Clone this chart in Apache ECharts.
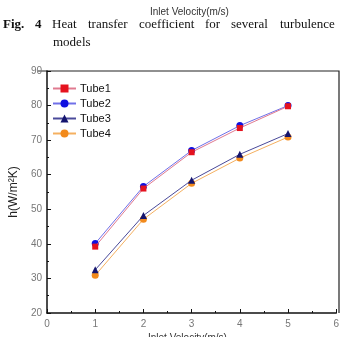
<!DOCTYPE html>
<html>
<head>
<meta charset="utf-8">
<script src="https://cdn.jsdelivr.net/npm/echarts@6/dist/echarts.min.js"></script>
<style>
  html, body { margin: 0; padding: 0; background: #fff; }
  #chart { width: 342px; height: 337px; }
</style>
</head>
<body>
<div id="chart"></div>
<script>
var velocity = [1, 2, 3, 4, 5];
var tube1 = [39.2, 56.0, 66.5, 73.5, 79.8];
var tube2 = [40.1, 56.6, 67.0, 74.2, 80.0];
var tube3 = [32.5, 48.2, 58.4, 65.9, 71.9];
var tube4 = [30.9, 47.1, 57.5, 64.8, 70.9];

var tubeNames = ['Tube1', 'Tube2', 'Tube3', 'Tube4'];
var tubeData = [tube1, tube2, tube3, tube4];
var markColors = ['#e5121e', '#1010e0', '#14146e', '#f28a1c'];
var lineColors = ['#e07a90', '#7070e8', '#4a4a9a', '#f5b060'];
var symbols = ['rect', 'circle', 'triangle', 'circle'];

// caption words placed one by one (justified line)
var captionWords = [
  ['Fig.', 3, true], ['4', 35, true], ['Heat', 52], ['transfer', 88],
  ['coefficient', 139], ['for', 205], ['several', 231], ['turbulence', 280]
];

var chart = echarts.init(document.getElementById('chart'));

var graphics = [];
captionWords.forEach(function (w) {
  graphics.push({
    type: 'text', left: w[1], top: 18,
    style: { text: w[0], fontFamily: 'Liberation Serif', fontSize: 13, fontWeight: w[2] ? 'bold' : 'normal', fill: '#111' }
  });
});
graphics.push({
  type: 'text', left: 53, top: 36,
  style: { text: 'models', fontFamily: 'Liberation Serif', fontSize: 13, fill: '#111' }
});
graphics.push({
  type: 'text', left: 150, top: 7,
  style: { text: 'Inlet Velocity(m/s)', fontFamily: 'Liberation Sans', fontSize: 10, fill: '#333' }
});
graphics.push({
  type: 'text', left: 148, top: 333,
  style: { text: 'Inlet Velocity(m/s)', fontFamily: 'Liberation Sans', fontSize: 10, fill: '#333' }
});
// frame top/right
graphics.push({
  type: 'polyline',
  shape: { points: [[38, 71], [339, 71], [339, 313]] },
  style: { stroke: '#222', lineWidth: 1.2, fill: null }
});

var option = {
  animation: false,
  backgroundColor: '#fff',
  grid: { left: 38, right: 3, top: 71, bottom: 24 },
  legend: {
    orient: 'vertical',
    left: 52, top: 83, padding: 0,
    itemWidth: 23, itemHeight: 10, itemGap: 4,
    textStyle: { fontFamily: 'Liberation Sans', fontSize: 11, color: '#111', padding: [0, 0, 0, -1] },
    data: tubeNames
  },
  xAxis: {
    type: 'value', min: 0, max: 6, interval: 1,
    axisLine: { onZero: false, lineStyle: { color: '#111', width: 1.5 } },
    axisTick: { inside: true, length: 4, lineStyle: { color: '#111' } },
    minorTick: { show: true, splitNumber: 2, length: 2, lineStyle: { color: '#111' } },
    axisLabel: { color: '#777', fontSize: 10, fontFamily: 'Liberation Sans', margin: 6 },
    splitLine: { show: false }
  },
  yAxis: {
    type: 'value', min: 20, max: 90, interval: 10,
    name: 'h(W/m²K)', nameLocation: 'middle', nameGap: 25,
    nameTextStyle: { fontFamily: 'Liberation Sans', fontSize: 12, color: '#222' },
    axisLine: { show: true, lineStyle: { color: '#111', width: 1.5 } },
    axisTick: { inside: true, length: 4, lineStyle: { color: '#111' } },
    minorTick: { show: true, splitNumber: 2, length: 2, lineStyle: { color: '#111' } },
    axisLabel: { color: '#777', fontSize: 10, fontFamily: 'Liberation Sans', margin: 5 },
    splitLine: { show: false }
  },
  series: tubeNames.map(function (name, i) {
    return {
      name: name,
      type: 'line',
      data: velocity.map(function (v, j) { return [v, tubeData[i][j]]; }),
      symbol: symbols[i],
      symbolSize: i === 0 ? 6 : 7,
      showAllSymbol: true,
      itemStyle: { color: markColors[i] },
      lineStyle: { color: lineColors[i], width: 1 },
      z: 10 - i
    };
  }),
  graphic: graphics
};

chart.setOption(option);
</script>
</body>
</html>
